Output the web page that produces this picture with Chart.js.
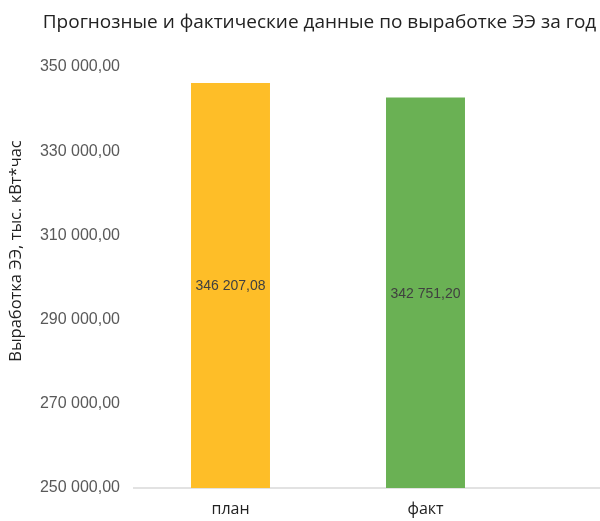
<!DOCTYPE html>
<html>
<head>
<meta charset="utf-8">
<script src="https://cdn.jsdelivr.net/npm/chart.js@4"></script>
<style>
  html, body { margin: 0; padding: 0; background: #fff; }
  #wrap { width: 600px; height: 521px; }
</style>
</head>
<body>
<div id="wrap"><canvas id="myChart" width="600" height="521"></canvas></div>
<script>
var categories = ["план", "факт"];
var values = [346207.08, 342751.20];
var barColors = ["rgb(254, 190, 40)", "rgb(106, 177, 84)"];
var yMin = 250000;
var yMax = 350000;
var yStep = 20000;
var chartTitle = "Прогнозные и фактические данные по выработке ЭЭ за год";
var yTitle = "Выработка ЭЭ, тыс. кВт*час";

function fmt(v) {
  var parts = Number(v).toFixed(2).split(".");
  var intPart = parts[0].replace(/\B(?=(\d{3})+(?!\d))/g, " ");
  return intPart + "," + parts[1];
}

// value labels in the middle of each bar
var barLabels = {
  id: "barLabels",
  afterDraw: function (chart) {
    var c = chart.ctx;
    var meta = chart.getDatasetMeta(0);
    var yScale = chart.scales.y;
    c.save();
    c.font = "14px 'Liberation Sans', Arial, sans-serif";
    c.fillStyle = "#404040";
    c.textAlign = "center";
    c.textBaseline = "middle";
    meta.data.forEach(function (bar, i) {
      var top = yScale.getPixelForValue(values[i]);
      var bottom = yScale.getPixelForValue(yMin);
      c.fillText(fmt(values[i]), bar.x, (top + bottom) / 2 + 1);
    });
    c.restore();
  },
};

// baseline runs to the right edge, plus titles
var extras = {
  id: "extras",
  beforeDatasetsDraw: function (chart) {
    var c = chart.ctx;
    var y = chart.scales.y.getPixelForValue(yMin);
    c.save();
    c.strokeStyle = "#d9d9d9";
    c.lineWidth = 1.5;
    c.beginPath();
    c.moveTo(chart.chartArea.left, y);
    c.lineTo(chart.width, y);
    c.stroke();

    c.fillStyle = "#222";
    c.textAlign = "center";
    c.textBaseline = "middle";
    c.font = "19px 'Open Sans', sans-serif";
    c.fillText(chartTitle, 319.5, 23);

    c.translate(16, 251);
    c.rotate(-Math.PI / 2);
    c.font = "16.5px 'Open Sans', sans-serif";
    c.fillText(yTitle, 0, 0);
    c.restore();
  },
};

var ctx = document.getElementById("myChart").getContext("2d");
var chart = new Chart(ctx, {
  type: "bar",
  data: {
    labels: categories,
    datasets: [
      {
        data: values,
        backgroundColor: barColors,
        barPercentage: 0.405,
        categoryPercentage: 1,
      },
    ],
  },
  options: {
    responsive: false,
    animation: false,
    layout: { padding: { left: 0, right: 77, top: 67, bottom: 0 } },
    plugins: {
      legend: { display: false },
      tooltip: { enabled: false },
    },
    scales: {
      y: {
        min: yMin,
        max: yMax,
        ticks: {
          stepSize: yStep,
          color: "#595959",
          font: { family: "'Liberation Sans', Arial, sans-serif", size: 16 },
          padding: 13,
          callback: function (v) { return fmt(v); },
        },
        grid: { display: false, drawTicks: false },
        border: { display: false },
        afterFit: function (scale) { scale.width = 133; },
      },
      x: {
        ticks: {
          color: "#222",
          font: { family: "'Open Sans', sans-serif", size: 16 },
          padding: 12,
        },
        grid: { display: false, drawTicks: false },
        border: { display: false },
        afterFit: function (scale) { scale.height = 33; },
      },
    },
  },
  plugins: [extras, barLabels],
});
</script>
</body>
</html>
